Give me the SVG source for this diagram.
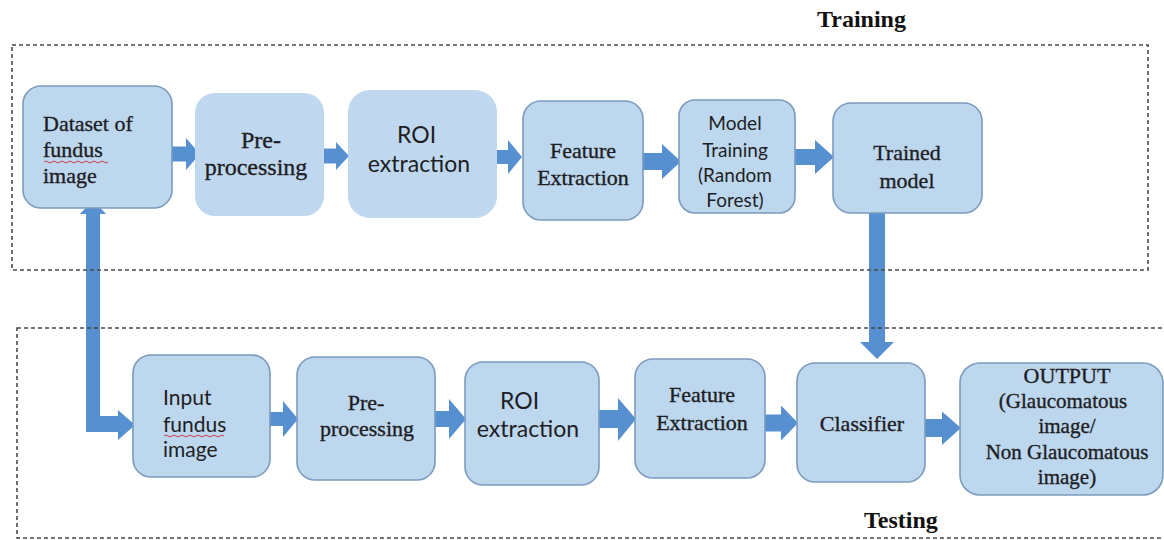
<svg xmlns="http://www.w3.org/2000/svg" width="1164" height="540" viewBox="0 0 1164 540">
<style>
.frame{fill:none;stroke:#4a4a4a;stroke-width:1.6;stroke-dasharray:4 3}
.box{fill:#bdd7ee;stroke:#7b9bbd;stroke-width:1.6}
.soft{fill:#bfd8ef;stroke:none}
.arr{fill:#5690d0}
.serif{font-family:"Liberation Serif","Times New Roman",serif;fill:#1e1e24;stroke:#1e1e24;stroke-width:0.35}
.sans{font-family:Lato,"Liberation Sans",Arial,sans-serif;fill:#1e1e24}
.title{font-family:"Liberation Serif","Times New Roman",serif;font-weight:bold;font-size:24px;fill:#111}
.spell{fill:none;stroke:#d0404a;stroke-width:1}
</style>
<rect width="1164" height="540" fill="#ffffff"/>

<g id="connectors">
  <!-- top row -->
  <polygon class="arr" points="172,146.5 186,146.5 186,138 200,154 186,170 186,161.5 172,161.5"/>
  <polygon class="arr" points="322,148.5 336,148.5 336,142 349,156 336,170 336,163.5 322,163.5"/>
  <polygon class="arr" points="495,150 508,150 508,140 522,157 508,174 508,164 495,164"/>
  <polygon class="arr" points="641,153 662,153 662,144 681,161.5 662,179 662,170 641,170"/>
  <polygon class="arr" points="793,149 815,149 815,140 834,157 815,174 815,165 793,165"/>
  <!-- trained model to classifier -->
  <polygon class="arr" points="869,212 885,212 885,342 894,342 877,359 860,342 869,342"/>
  <!-- dataset <-> input fundus image elbow -->
  <polygon class="arr" points="93,200 106,214 100,214 100,416 118,416 118,410 135,425 118,440 118,432 86,432 86,214 80,214"/>
  <!-- bottom row -->
  <polygon class="arr" points="268,412 283,412 283,401 298,419 283,437 283,426 268,426"/>
  <polygon class="arr" points="433,411 449,411 449,399 466,419 449,439 449,427 433,427"/>
  <polygon class="arr" points="597,410 618,410 618,398 636,419 618,441 618,428 597,428"/>
  <polygon class="arr" points="763,414.5 781,414.5 781,405.5 798,423 781,440.5 781,431.5 763,431.5"/>
  <polygon class="arr" points="923,419 942,419 942,411.5 961,428 942,445 942,437 923,437"/>
</g>

<g id="training-frame">
  <rect class="frame" x="12" y="45" width="1136" height="225"/>
  <text class="title" x="817" y="27">Training</text>
</g>
<g id="testing-frame">
  <rect class="frame" x="17" y="328" width="1160" height="210"/>
  <text class="title" x="864" y="528">Testing</text>
</g>

<g id="dataset">
  <rect class="box" x="23" y="86" width="149" height="122" rx="18"/>
  <text class="serif" font-size="22" x="43" y="131">Dataset of</text>
  <text class="serif" font-size="22" x="43" y="157">fundus</text>
  <path class="spell" d="M44,162 q2,-2 4,0 t4,0 t4,0 t4,0 t4,0 t4,0 t4,0 t4,0 t4,0 t4,0 t4,0 t4,0 t4,0 t4,0 t4,0 t4,0"/>
  <text class="serif" font-size="22" x="43" y="183">image</text>
</g>

<g id="preprocessing-train">
  <rect class="soft" x="195" y="93" width="129" height="123" rx="20"/>
  <text class="serif" font-size="24" text-anchor="middle" x="261" y="148">Pre-</text>
  <text class="serif" font-size="24" text-anchor="middle" x="256" y="175">processing</text>
</g>

<g id="roi-train">
  <rect class="soft" x="348" y="90" width="149" height="128" rx="22"/>
  <text class="sans" font-size="23" x="397" y="143">ROI</text>
  <text class="sans" font-size="23" text-anchor="middle" x="419" y="172">extraction</text>
</g>

<g id="feature-train">
  <rect class="box" x="523" y="101" width="120" height="119" rx="18"/>
  <text class="serif" font-size="22" text-anchor="middle" x="583" y="158">Feature</text>
  <text class="serif" font-size="22" text-anchor="middle" x="583" y="185">Extraction</text>
</g>

<g id="model-training">
  <rect class="box" x="679" y="100" width="116" height="113" rx="16"/>
  <text class="sans" font-size="19" text-anchor="middle" x="735" y="130">Model</text>
  <text class="sans" font-size="19" text-anchor="middle" x="735" y="157">Training</text>
  <text class="sans" font-size="19" text-anchor="middle" x="735" y="182">(Random</text>
  <text class="sans" font-size="19" text-anchor="middle" x="735" y="207">Forest)</text>
</g>

<g id="trained-model">
  <rect class="box" x="833" y="103" width="149" height="110" rx="18"/>
  <text class="serif" font-size="22" text-anchor="middle" x="907" y="160">Trained</text>
  <text class="serif" font-size="22" text-anchor="middle" x="907" y="188">model</text>
</g>

<g id="input-fundus">
  <rect class="box" x="133" y="355" width="137" height="122" rx="18"/>
  <text class="sans" font-size="21" x="163" y="405">Input</text>
  <text class="sans" font-size="21" x="163" y="432">fundus</text>
  <path class="spell" d="M164,436 q2,-2 4,0 t4,0 t4,0 t4,0 t4,0 t4,0 t4,0 t4,0 t4,0 t4,0 t4,0 t4,0 t4,0 t4,0 t4,0"/>
  <text class="sans" font-size="21" x="163" y="457">image</text>
</g>

<g id="preprocessing-test">
  <rect class="box" x="297" y="357" width="138" height="123" rx="18"/>
  <text class="serif" font-size="22" text-anchor="middle" x="366" y="410">Pre-</text>
  <text class="serif" font-size="22" text-anchor="middle" x="367" y="436">processing</text>
</g>

<g id="roi-test">
  <rect class="box" x="465" y="362" width="134" height="123" rx="18"/>
  <text class="sans" font-size="23" x="500" y="409">ROI</text>
  <text class="sans" font-size="23" text-anchor="middle" x="528" y="437">extraction</text>
</g>

<g id="feature-test">
  <rect class="box" x="635" y="359" width="130" height="119" rx="18"/>
  <text class="serif" font-size="22" text-anchor="middle" x="702" y="402">Feature</text>
  <text class="serif" font-size="22" text-anchor="middle" x="702" y="430">Extraction</text>
</g>

<g id="classifier">
  <rect class="box" x="797" y="363" width="128" height="119" rx="18"/>
  <text class="serif" font-size="22" text-anchor="middle" x="862" y="431">Classifier</text>
</g>

<g id="output">
  <rect class="box" x="960" y="363" width="203" height="132" rx="20"/>
  <text class="serif" font-size="22" text-anchor="middle" x="1067" y="383">OUTPUT</text>
  <text class="serif" font-size="21" text-anchor="middle" x="1063" y="408">(Glaucomatous</text>
  <text class="serif" font-size="21" text-anchor="middle" x="1067" y="433">image/</text>
  <text class="serif" font-size="21" text-anchor="middle" x="1067" y="459">Non Glaucomatous</text>
  <text class="serif" font-size="21" text-anchor="middle" x="1067" y="484">image)</text>
</g>
</svg>
